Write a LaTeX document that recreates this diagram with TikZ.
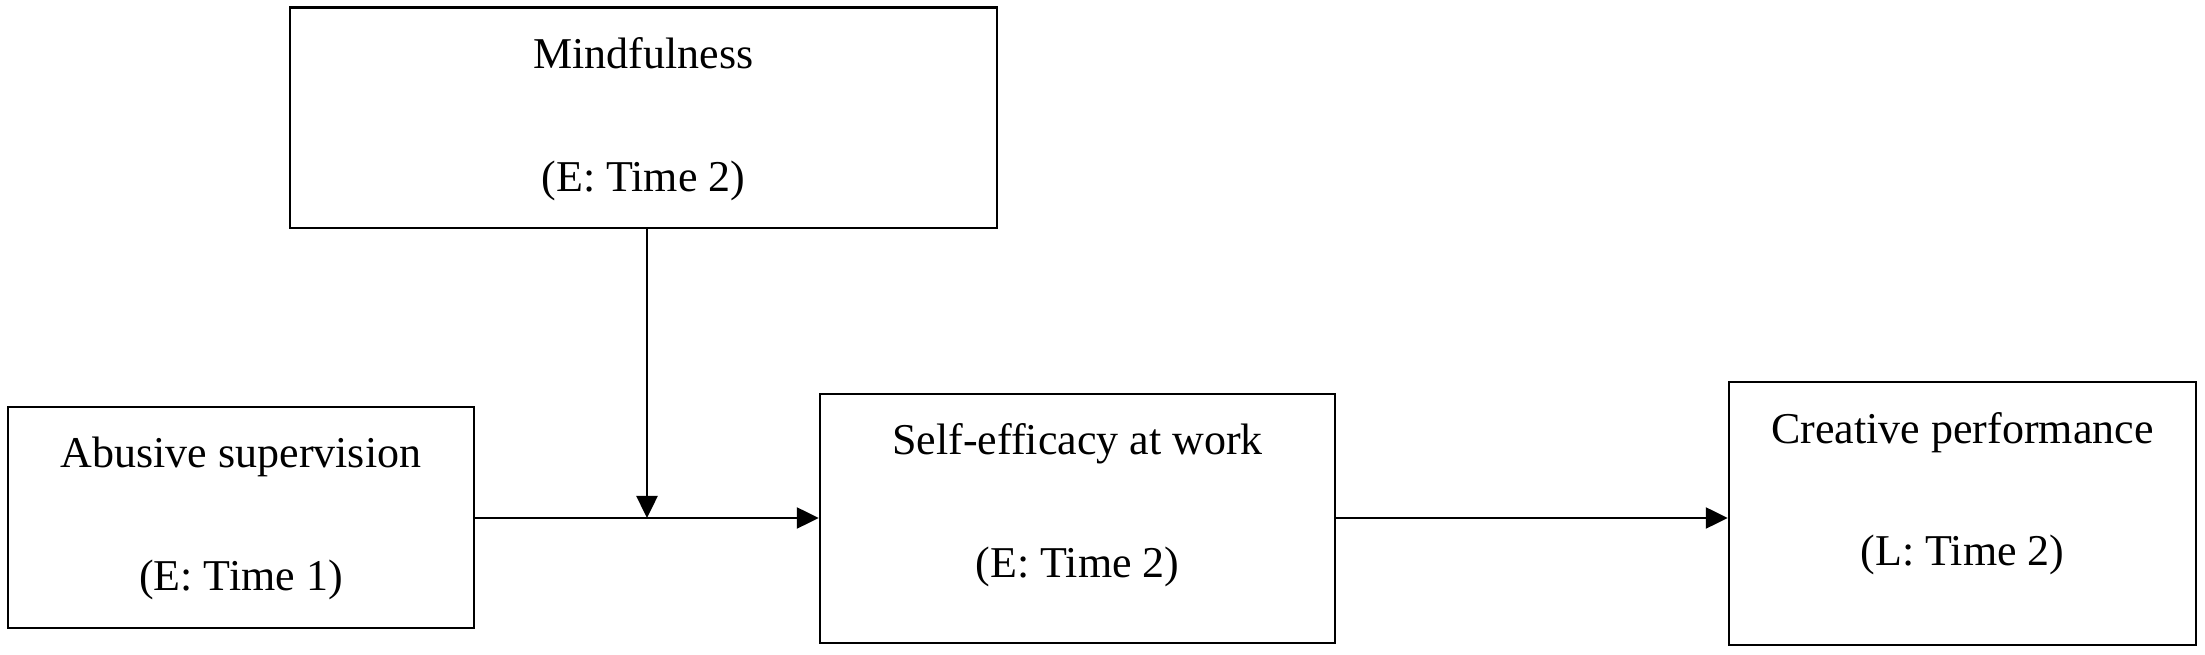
\documentclass[tikz,border=0pt]{standalone}
\usepackage{fontspec}
\setmainfont{Liberation Serif}
\usetikzlibrary{arrows.meta}
\begin{document}
\begin{tikzpicture}[x=1pt,y=1pt,
  box/.style={draw=black,line width=2.5pt,minimum width=#1,inner sep=0pt},
  txt/.style={anchor=base,inner sep=0pt,font=\fontsize{44}{53}\selectfont},
  conn/.style={line width=2.5pt,-{Triangle[length=22pt,width=21pt]}}]
\useasboundingbox (0,0) rectangle (2205,655);
% boxes (y measured from bottom)
\node[box=707pt,minimum height=220.5pt] (M) at (643.5,537.25) {};
\node[box=466pt,minimum height=221pt] (A) at (241,137.5) {};
\node[box=515pt,minimum height=249pt] (S) at (1077.5,136.5) {};
\node[box=467pt,minimum height=263pt] (C) at (1962.5,141.5) {};
% texts
\node[txt] (m1) at (643.5,586) {Mindfulness};
\node[txt] (m2) at (643.5,463) {(E: Time 2)};
\node[txt] (a1) at (241,187) {Abusive supervision};
\node[txt] (a2) at (241,64) {(E: Time 1)};
\node[txt] (s1) at (1077.5,200) {Self-efficacy at work};
\node[txt] (s2) at (1077.5,77) {(E: Time 2)};
\node[txt] (c1) at (1962.5,211) {Creative performance};
\node[txt] (c2) at (1962.5,89) {(L: Time 2)};
% connectors
\coordinate (j) at (647,137);
\draw[conn] (A.east |- j) -- (S.west |- j);
\draw[conn] (j |- M.south) -- (j);
\draw[conn] (S.east |- j) -- (C.west |- j);
\end{tikzpicture}
\end{document}
